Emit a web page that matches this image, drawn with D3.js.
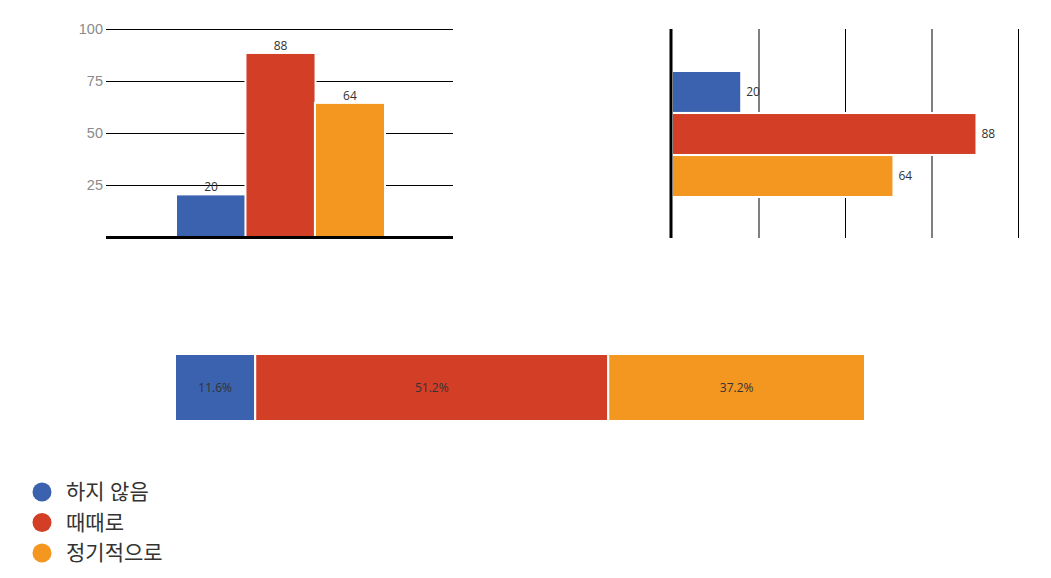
<!DOCTYPE html>
<html><head><meta charset="utf-8">
<script src="https://cdn.jsdelivr.net/npm/d3@7"></script>
<style>
body{margin:0;background:#fff;}
svg{display:block;font-family:"Open Sans","Noto Sans CJK KR",sans-serif;}
</style></head>
<body><svg id="c" width="1051" height="578"></svg>
<script>
const categories = ["하지 않음", "때때로", "정기적으로"];
const values = [20, 88, 64];
const colors = ["#3a62af", "#d33e27", "#f49721"];
const yTicks = [25, 50, 75, 100];
const xTicks = [25, 50, 75, 100];

const svg = d3.select("#c");

// Chart 1: vertical bars
{
  const x0 = 106, x1 = 453, yTop = 29, yBot = 237;
  const y = d3.scaleLinear().domain([0, 100]).range([yBot, yTop]);
  const band = d3.scaleBand().domain(categories).range([177, 384]).paddingInner(0.02);
  const g = svg.append("g");
  const ax = d3.axisLeft(y).tickValues(yTicks).tickSize(-(x1 - x0)).tickPadding(4);
  const axG = g.append("g").attr("transform", `translate(${x0},0)`).call(ax);
  axG.select(".domain").remove();
  axG.selectAll(".tick line").attr("stroke", "#000").attr("stroke-width", 1);
  axG.selectAll(".tick text").attr("fill", "#8a8a8a").attr("font-size", 14.5).attr("x", -3);
  g.selectAll("rect").data(values).join("rect")
    .attr("x", (d, i) => band(categories[i]) - 1)
    .attr("width", band.bandwidth() + 2)
    .attr("y", d => y(d) - 1)
    .attr("height", d => yBot - y(d) + 1)
    .attr("fill", (d, i) => colors[i])
    .attr("stroke", "#fff").attr("stroke-width", 2);
  g.append("line").attr("x1", x0).attr("x2", x1).attr("y1", yBot + 0.5).attr("y2", yBot + 0.5)
    .attr("stroke", "#000").attr("stroke-width", 3);
  g.selectAll("text.lbl").data(values).join("text").attr("class", "lbl")
    .attr("x", (d, i) => band(categories[i]) + band.bandwidth() / 2)
    .attr("y", d => y(d) - 4)
    .attr("text-anchor", "middle").attr("font-size", 12).attr("fill", "#333")
    .text(d => d);
}

// Chart 2: horizontal bars
{
  const xL = 672, xR = 1018, yTop = 29, yBot = 238;
  const x = d3.scaleLinear().domain([0, 100]).range([xL, xR]);
  const band = d3.scaleBand().domain(categories).range([72, 196]).paddingInner(0.05);
  const g = svg.append("g");
  const ax = d3.axisBottom(x).tickValues(xTicks).tickSize(-(yBot - yTop)).tickFormat("");
  const axG = g.append("g").attr("transform", `translate(0,${yBot})`).call(ax);
  axG.select(".domain").remove();
  axG.selectAll(".tick line").attr("stroke", "#000").attr("stroke-width", 1);
  g.selectAll("rect").data(values).join("rect")
    .attr("x", xL)
    .attr("y", (d, i) => band(categories[i]) - 1)
    .attr("height", band.bandwidth() + 2)
    .attr("width", d => x(d) - xL)
    .attr("fill", (d, i) => colors[i])
    .attr("stroke", "#fff").attr("stroke-width", 2);
  g.append("line").attr("x1", xL - 1).attr("x2", xL - 1).attr("y1", yTop).attr("y2", yBot)
    .attr("stroke", "#000").attr("stroke-width", 3);
  g.selectAll("text.lbl").data(values).join("text").attr("class", "lbl")
    .attr("x", d => x(d) + 5)
    .attr("y", (d, i) => band(categories[i]) + band.bandwidth() / 2)
    .attr("dy", "0.35em").attr("font-size", 12).attr("fill", "#333")
    .text(d => d);
}

// Chart 3: 100% stacked bar
{
  const total = d3.sum(values);
  const x = d3.scaleLinear().domain([0, 1]).range([175, 865]);
  const y0 = 354, h = 67;
  let cum = 0;
  const segs = values.map((v, i) => { const s = { i, start: cum, end: cum + v / total, p: v / total }; cum += v / total; return s; });
  const g = svg.append("g");
  g.selectAll("rect").data(segs).join("rect")
    .attr("x", d => x(d.start)).attr("width", d => x(d.end) - x(d.start))
    .attr("y", y0).attr("height", h)
    .attr("fill", d => colors[d.i])
    .attr("stroke", "#fff").attr("stroke-width", 2);
  g.selectAll("text").data(segs).join("text")
    .attr("x", d => (x(d.start) + x(d.end)) / 2)
    .attr("y", y0 + h / 2).attr("dy", "0.35em")
    .attr("text-anchor", "middle").attr("font-size", 12).attr("fill", "#333")
    .text(d => d3.format(".1%")(d.p));
}

// Legend
{
  const g = svg.append("g");
  const rows = g.selectAll("g").data(categories).join("g")
    .attr("transform", (d, i) => `translate(42,${492 + i * 30.5})`);
  rows.append("circle").attr("r", 9.5).attr("fill", (d, i) => colors[i]);
  rows.append("text").attr("x", 24).attr("dy", "0.35em").attr("font-size", 21)
    .attr("fill", "#333").text(d => d);
}
</script></body></html>
